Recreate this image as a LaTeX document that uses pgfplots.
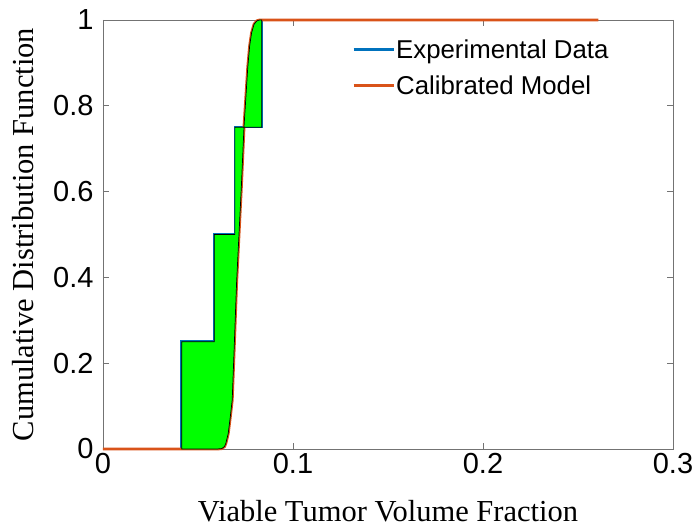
\documentclass[border=0pt]{standalone}
\usepackage{pgfplots}
\pgfplotsset{compat=1.18}
\usepackage{fontspec}
\setmainfont{Liberation Serif}
\newfontfamily\arialfont{Liberation Sans}

\definecolor{mblue}{RGB}{0,114,189}
\definecolor{morange}{RGB}{217,83,25}
\definecolor{mgreen}{RGB}{0,255,0}

\begin{document}
\begin{tikzpicture}
\begin{axis}[
    scale only axis,
    width=570pt,
    height=429pt,
    xmin=0, xmax=0.3,
    ymin=0, ymax=1,
    xtick={0,0.1,0.2,0.3},
    ytick={0,0.2,0.4,0.6,0.8,1},
    xticklabels={0,0.1,0.2,0.3},
    yticklabels={0,0.2,0.4,0.6,0.8,1},
    tick align=inside,
    major tick length=6pt,
    axis line style={black!55, line width=0.9pt},
    every tick/.style={black!55, line width=0.9pt},
    tick label style={font=\arialfont\fontsize{29}{29}\selectfont, black},
    xticklabel style={yshift=-1pt},
    yticklabel style={xshift=-6pt},
    xlabel={Viable Tumor Volume Fraction},
    ylabel={Cumulative Distribution Function},
    label style={font=\fontsize{30.5}{30.5}\selectfont},
    xlabel style={yshift=-19pt},
    ylabel style={yshift=12pt},
    legend style={at={(0.437,0.96)}, anchor=north west, draw=none, fill=none,
        font=\arialfont\fontsize{25.8}{25.8}\selectfont, inner sep=0pt,
        row sep=12pt, nodes={inner xsep=1pt, inner ysep=2pt}},
    legend cell align=left,
    legend image code/.code={\draw[#1] (0pt,0pt) -- (40pt,0pt);},
    clip=false,
]
\addplot[color=mblue, line width=2.5pt] coordinates {
    (0,0) (0.0414,0) (0.0414,0.25) (0.0586,0.25) (0.0586,0.5)
    (0.0694,0.5) (0.0694,0.75) (0.0835,0.75) (0.0835,1) (0.2607,1)
};
\addlegendentry{Experimental Data}

\addplot[color=morange, line width=2.9pt] coordinates {
    (0,0) (0.0600,0) (0.0625,0.001) (0.0640,0.006) (0.0647,0.014)
    (0.0659,0.036) (0.0670,0.075) (0.0680,0.114) (0.0690,0.23) (0.0703,0.387)
    (0.0716,0.503) (0.0728,0.61) (0.0742,0.75) (0.0762,0.89) (0.0772,0.94)
    (0.0782,0.97) (0.0795,0.99) (0.0810,0.998) (0.0825,1) (0.2607,1)
};
\addlegendentry{Calibrated Model}

% shaded gap between the data and the model
\addplot[forget plot, draw=black, line width=0.7pt, fill=mgreen] coordinates {
    (0.0414,0) (0.0414,0.25) (0.0586,0.25) (0.0586,0.5)
    (0.0694,0.5) (0.0694,0.75) (0.0835,0.75) (0.0835,1)
    (0.0825,1) (0.0810,0.998) (0.0795,0.99) (0.0782,0.97) (0.0772,0.94)
    (0.0762,0.89) (0.0742,0.75) (0.0728,0.61) (0.0716,0.503) (0.0703,0.387)
    (0.0690,0.23) (0.0680,0.114) (0.0670,0.075) (0.0659,0.036) (0.0647,0.014)
    (0.0640,0.006) (0.0625,0.001) (0.0600,0)
} -- cycle;
\end{axis}
\pgfresetboundingbox
\useasboundingbox ([shift={(-103pt,-80pt)}]current axis.south west)
    rectangle ([shift={(19pt,20pt)}]current axis.north east);
\end{tikzpicture}
\end{document}
